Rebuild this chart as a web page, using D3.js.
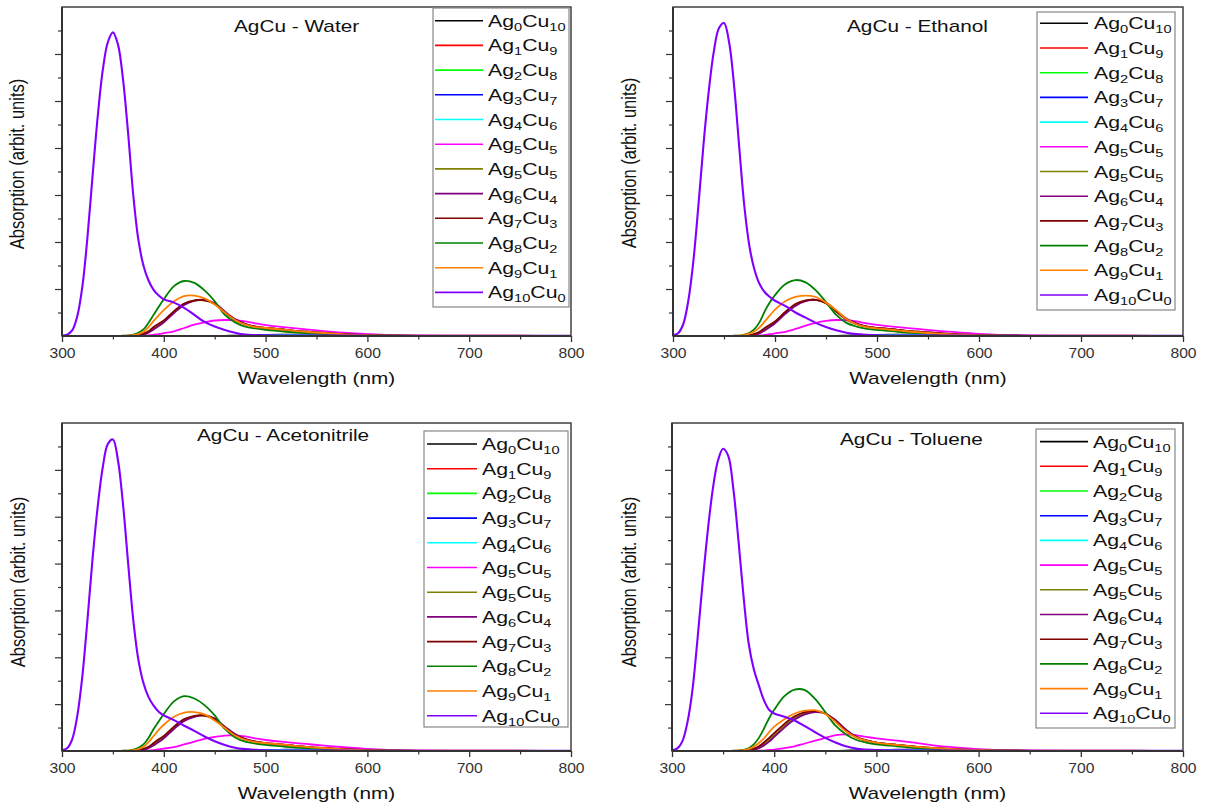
<!DOCTYPE html>
<html>
<head>
<meta charset="utf-8">
<script src="https://d3js.org/d3.v7.min.js"></script>
<style>
  body { margin: 0; background: #fff; }
  text { font-family: "Liberation Sans", Arial, sans-serif; }
</style>
</head>
<body>
<svg id="chart" width="1206" height="808"></svg>
<script>
// wavelength grid (nm) shared by every series
const wl = [300, 305, 310, 315, 320, 325, 330, 335, 340, 345, 350, 355,
            360, 365, 370, 375, 380, 385, 390, 395, 400,
            410, 420, 430, 440, 450, 460, 470, 480, 490, 500,
            520, 540, 560, 580, 600, 620, 650, 700, 750, 800];

// legend entries: [Ag, Cu] subscripts
const compositions = [[0,10],[1,9],[2,8],[3,7],[4,6],[5,5],[5,5],[6,4],[7,3],[8,2],[9,1],[10,0]];
const colors = ["#000000","#ff0000","#00ff00","#0000ff","#00ffff","#ff00ff",
                "#808000","#800080","#800000","#008000","#ff8000","#8000ff"];
const titles = ["AgCu - Water", "AgCu - Ethanol", "AgCu - Acetonitrile", "AgCu - Toluene"];
const xMajor = [300, 400, 500, 600, 700, 800];
const xMinor = [350, 450, 550, 650, 750];

// Cu-rich clusters: practically flat in every solvent
const ag0cu10 = [0,0,0,0,0,0,0,0,0,0,0,0, 0,0,0,0,0,0,0,0,0,
  0,0,0,0,0,0.003,0.008,0.013,0.018,0.022, 0.028,0.032,0.03,0.022,0.012,0.006,0.002,0,0,0];
const ag1cu9 = [0.003,0.003,0.003,0.003,0.003,0.003,0.003,0.003,0.003,0.003,0.003,0.003,
  0.003,0.003,0.003,0.003,0.003,0.003,0.003,0.003,0.003,
  0.004,0.004,0.004,0.004,0.004,0.004,0.004,0.004,0.004,0.004,
  0.005,0.006,0.006,0.006,0.006,0.006,0.006,0.006,0.005,0.004];
const ag2cu8 = [0.002,0.002,0.002,0.002,0.002,0.002,0.002,0.002,0.002,0.002,0.002,0.002,
  0.002,0.002,0.002,0.002,0.002,0.002,0.002,0.002,0.002,
  0.003,0.003,0.003,0.003,0.003,0.003,0.003,0.003,0.003,0.003,
  0.004,0.004,0.004,0.004,0.004,0.004,0.004,0.004,0.004,0.004];
const ag3cu7 = [0,0,0,0,0,0,0,0,0,0,0,0, 0,0,0,0,0,0,0,0,0,
  0,0,0,0,0,0,0,0.002,0.005,0.01, 0.018,0.025,0.024,0.015,0.008,0.004,0.002,0.001,0,0];
const ag4cu6 = [0,0,0,0,0,0,0,0,0,0,0,0, 0,0,0,0,0,0,0,0,0,
  0,0,0,0,0,0,0.003,0.008,0.012,0.015, 0.017,0.018,0.016,0.01,0.005,0.002,0.001,0,0,0];

// Ag-rich clusters, per solvent, order: Ag5Cu5, Ag5Cu5, Ag6Cu4, Ag7Cu3, Ag8Cu2, Ag9Cu1, Ag10Cu0
const water = [
  [0,0,0,0,0,0,0,0,0,0,0,0, 0,0,0,0.003,0.006,0.012,0.025,0.04,0.06,
   0.1,0.17,0.24,0.29,0.33,0.34,0.335,0.31,0.27,0.23, 0.185,0.14,0.1,0.065,0.04,0.02,0.008,0.002,0,0],
  [0,0,0,0,0,0,0,0,0,0,0,0, 0,0,0.005,0.015,0.04,0.08,0.16,0.23,0.31,
   0.51,0.67,0.75,0.76,0.69,0.51,0.35,0.25,0.2,0.17, 0.13,0.09,0.06,0.035,0.02,0.01,0.003,0,0,0],
  [0,0,0,0,0,0,0,0,0,0,0,0, 0,0,0.003,0.01,0.03,0.07,0.14,0.21,0.29,
   0.49,0.66,0.75,0.77,0.7,0.52,0.36,0.26,0.2,0.17, 0.13,0.09,0.06,0.035,0.02,0.01,0.003,0,0,0],
  [0,0,0,0,0,0,0,0,0,0,0,0, 0,0.005,0.01,0.02,0.05,0.1,0.19,0.26,0.33,
   0.53,0.69,0.76,0.76,0.68,0.5,0.34,0.25,0.2,0.17, 0.13,0.09,0.06,0.035,0.02,0.01,0.003,0,0,0],
  [0,0,0,0,0,0,0,0,0,0,0,0, 0.005,0.01,0.03,0.07,0.14,0.28,0.45,0.62,0.78,
   1.06,1.17,1.13,0.97,0.74,0.45,0.29,0.2,0.16,0.13, 0.09,0.06,0.04,0.02,0.01,0.005,0.001,0,0,0],
  [0,0,0,0,0,0,0,0,0,0,0,0, 0.005,0.01,0.02,0.04,0.09,0.19,0.32,0.44,0.55,
   0.74,0.85,0.86,0.8,0.67,0.5,0.34,0.24,0.19,0.17, 0.13,0.09,0.06,0.03,0.015,0.007,0.002,0,0,0],
  [0.01,0.03,0.12,0.42,1.05,2.1,3.4,4.65,5.65,6.25,6.46,6.2, 5.45,4.3,3.0,2.05,1.5,1.18,0.98,0.86,0.78,
   0.71,0.6,0.45,0.3,0.2,0.13,0.07,0.03,0.02,0.015, 0.01,0.01,0.01,0.008,0.006,0.005,0.004,0.003,0.002,0.002]
];
const ethanol = [
  [0,0,0,0,0,0,0,0,0,0,0,0, 0,0,0,0.003,0.006,0.012,0.022,0.037,0.055,
   0.09,0.15,0.22,0.28,0.32,0.34,0.335,0.31,0.27,0.235, 0.19,0.15,0.11,0.075,0.045,0.025,0.01,0.002,0,0],
  [0,0,0,0,0,0,0,0,0,0,0,0, 0,0,0.005,0.012,0.035,0.07,0.14,0.21,0.29,
   0.49,0.66,0.75,0.77,0.7,0.53,0.36,0.26,0.2,0.17, 0.13,0.09,0.06,0.035,0.02,0.01,0.003,0,0,0],
  [0,0,0,0,0,0,0,0,0,0,0,0, 0,0,0.003,0.008,0.025,0.06,0.12,0.19,0.27,
   0.47,0.64,0.74,0.77,0.71,0.54,0.37,0.27,0.2,0.17, 0.13,0.09,0.06,0.035,0.02,0.01,0.003,0,0,0],
  [0,0,0,0,0,0,0,0,0,0,0,0, 0,0.004,0.01,0.02,0.045,0.09,0.17,0.24,0.31,
   0.51,0.68,0.76,0.77,0.7,0.52,0.35,0.25,0.2,0.17, 0.13,0.09,0.06,0.035,0.02,0.01,0.003,0,0,0],
  [0,0,0,0,0,0,0,0,0,0,0,0, 0.005,0.01,0.03,0.07,0.15,0.3,0.53,0.72,0.87,
   1.1,1.19,1.14,0.97,0.72,0.45,0.28,0.2,0.15,0.13, 0.09,0.06,0.04,0.02,0.01,0.005,0.001,0,0,0],
  [0,0,0,0,0,0,0,0,0,0,0,0, 0.005,0.01,0.025,0.05,0.1,0.19,0.31,0.44,0.56,
   0.74,0.83,0.86,0.83,0.71,0.55,0.36,0.25,0.19,0.16, 0.12,0.08,0.05,0.03,0.015,0.007,0.002,0,0,0],
  [0.02,0.06,0.25,0.75,1.6,2.8,4.1,5.2,6.05,6.55,6.66,6.25, 5.3,4.0,2.75,1.9,1.4,1.1,0.93,0.83,0.75,
   0.64,0.5,0.39,0.28,0.19,0.12,0.07,0.04,0.025,0.015, 0.01,0.01,0.01,0.008,0.006,0.005,0.004,0.003,0.002,0.002]
];
const acetonitrile = [
  [0,0,0,0,0,0,0,0,0,0,0,0, 0,0,0,0.002,0.005,0.01,0.02,0.033,0.05,
   0.085,0.14,0.2,0.26,0.3,0.33,0.33,0.31,0.27,0.235, 0.19,0.15,0.11,0.075,0.045,0.025,0.01,0.002,0,0],
  [0,0,0,0,0,0,0,0,0,0,0,0, 0,0,0.005,0.015,0.035,0.08,0.15,0.22,0.3,
   0.5,0.65,0.74,0.75,0.68,0.51,0.35,0.25,0.2,0.17, 0.13,0.09,0.06,0.035,0.02,0.01,0.003,0,0,0],
  [0,0,0,0,0,0,0,0,0,0,0,0, 0,0,0.003,0.01,0.025,0.06,0.12,0.19,0.27,
   0.47,0.64,0.73,0.76,0.69,0.52,0.36,0.26,0.2,0.17, 0.13,0.09,0.06,0.035,0.02,0.01,0.003,0,0,0],
  [0,0,0,0,0,0,0,0,0,0,0,0, 0,0.004,0.01,0.02,0.045,0.09,0.17,0.25,0.32,
   0.52,0.68,0.75,0.76,0.68,0.5,0.34,0.25,0.2,0.17, 0.13,0.09,0.06,0.035,0.02,0.01,0.003,0,0,0],
  [0,0,0,0,0,0,0,0,0,0,0,0, 0.005,0.01,0.03,0.07,0.14,0.28,0.47,0.63,0.79,
   1.06,1.17,1.12,0.98,0.76,0.47,0.29,0.2,0.16,0.13, 0.09,0.06,0.04,0.02,0.01,0.005,0.001,0,0,0],
  [0,0,0,0,0,0,0,0,0,0,0,0, 0.005,0.01,0.02,0.04,0.09,0.19,0.32,0.45,0.56,
   0.73,0.82,0.83,0.78,0.65,0.49,0.33,0.24,0.19,0.17, 0.13,0.09,0.06,0.03,0.015,0.007,0.002,0,0,0],
  [0.02,0.06,0.25,0.75,1.6,2.8,4.1,5.2,6.05,6.55,6.65,6.2, 5.25,4.0,2.8,1.95,1.45,1.15,0.97,0.84,0.76,
   0.66,0.54,0.43,0.31,0.21,0.13,0.07,0.04,0.025,0.015, 0.01,0.01,0.01,0.008,0.006,0.005,0.004,0.003,0.002,0.002]
];
const toluene = [
  [0,0,0,0,0,0,0,0,0,0,0,0, 0,0,0,0,0,0.005,0.01,0.02,0.03,
   0.06,0.1,0.16,0.22,0.28,0.34,0.355,0.34,0.3,0.27, 0.22,0.17,0.11,0.07,0.04,0.02,0.008,0.002,0,0],
  [0,0,0,0,0,0,0,0,0,0,0,0, 0,0,0.005,0.015,0.04,0.08,0.15,0.24,0.33,
   0.54,0.71,0.81,0.84,0.8,0.65,0.45,0.3,0.22,0.18, 0.13,0.09,0.06,0.035,0.02,0.01,0.003,0,0,0],
  [0,0,0,0,0,0,0,0,0,0,0,0, 0,0,0.003,0.01,0.03,0.06,0.12,0.2,0.3,
   0.5,0.67,0.78,0.83,0.8,0.66,0.46,0.31,0.23,0.18, 0.13,0.09,0.06,0.035,0.02,0.01,0.003,0,0,0],
  [0,0,0,0,0,0,0,0,0,0,0,0, 0,0.005,0.01,0.02,0.05,0.1,0.18,0.28,0.38,
   0.58,0.74,0.83,0.85,0.8,0.64,0.44,0.3,0.22,0.18, 0.13,0.09,0.06,0.035,0.02,0.01,0.003,0,0,0],
  [0,0,0,0,0,0,0,0,0,0,0,0, 0.005,0.01,0.025,0.06,0.14,0.28,0.48,0.7,0.88,
   1.17,1.31,1.3,1.11,0.83,0.54,0.36,0.24,0.18,0.14, 0.1,0.06,0.04,0.02,0.01,0.005,0.001,0,0,0],
  [0,0,0,0,0,0,0,0,0,0,0,0, 0.005,0.01,0.02,0.04,0.09,0.17,0.27,0.4,0.52,
   0.68,0.8,0.86,0.87,0.79,0.62,0.42,0.29,0.22,0.18, 0.13,0.09,0.06,0.035,0.02,0.01,0.003,0,0,0],
  [0.02,0.05,0.2,0.6,1.3,2.4,3.6,4.7,5.6,6.2,6.45,6.3, 5.6,4.5,3.3,2.3,1.75,1.4,1.08,0.88,0.8,
   0.73,0.65,0.53,0.4,0.28,0.18,0.1,0.05,0.03,0.02, 0.015,0.01,0.01,0.008,0.006,0.005,0.004,0.003,0.002,0.002]
];

const solvents = [water, ethanol, acetonitrile, toluene];

// panel layout (pixels)
const layouts = [
  {x0: 62,  x1: 571,  y0: 7,   y1: 336, tx: 234, ty: 31.5, yx: 24,  yy: 164,
   lg: {l: 433, t: 8,   r: 569,  b: 307, row0: 20.7, step: 24.7, lx0: 435,  lx1: 483,  tx: 488}},
  {x0: 673, x1: 1183, y0: 7,   y1: 336, tx: 847, ty: 32,   yx: 636, yy: 163,
   lg: {l: 1037, t: 12, r: 1175, b: 310, row0: 23.3, step: 24.7, lx0: 1040, lx1: 1088, tx: 1094}},
  {x0: 62,  x1: 571,  y0: 423, y1: 751, tx: 197, ty: 440.7, yx: 25, yy: 582,
   lg: {l: 424, t: 431, r: 568,  b: 727, row0: 444, step: 24.7, lx0: 427,  lx1: 477,  tx: 482}},
  {x0: 672, x1: 1183, y0: 423, y1: 751, tx: 840, ty: 444.5, yx: 636, yy: 582,
   lg: {l: 1036, t: 429, r: 1175, b: 728, row0: 441.6, step: 24.7, lx0: 1040, lx1: 1088, tx: 1093}}
];

const svg = d3.select("#chart");

function drawPanel(k) {
  const L = layouts[k];
  const series = [ag0cu10, ag1cu9, ag2cu8, ag3cu7, ag4cu6].concat(solvents[k]);
  const x = d3.scaleLinear().domain([300, 800]).range([L.x0, L.x1]);
  const y = d3.scaleLinear().domain([0, 7]).range([L.y1, L.y0]);
  const g = svg.append("g");

  // keep curves inside the frame
  svg.append("clipPath").attr("id", "clip" + k)
    .append("rect")
    .attr("x", L.x0).attr("y", L.y0)
    .attr("width", L.x1 - L.x0).attr("height", L.y1 - L.y0);

  // curves
  const line = d3.line()
    .x((d, i) => x(wl[i]))
    .y(d => y(d))
    .curve(d3.curveCatmullRom.alpha(0.5));

  g.append("g").attr("clip-path", `url(#clip${k})`)
    .selectAll(".curve").data(series).join("path")
    .attr("class", "curve")
    .attr("d", line)
    .attr("fill", "none")
    .attr("stroke", (d, i) => colors[i])
    .attr("stroke-width", (d, i) => i == 11 ? 2.1 : 1.8);

  // x axis, major + minor ticks
  const xa = g.append("g")
    .attr("transform", `translate(0,${L.y1})`)
    .call(d3.axisBottom(x).tickValues(xMajor).tickSize(6).tickSizeOuter(0).tickFormat(d3.format("d")));
  xa.select(".domain").remove();
  xa.selectAll("line").attr("stroke", "#333").attr("stroke-width", 1.3);
  xa.selectAll("text")
    .attr("y", 22).attr("dy", null)
    .attr("font-size", 14).attr("fill", "#333")
    .attr("transform", "scale(1.12,1)");

  const xm = g.append("g")
    .attr("transform", `translate(0,${L.y1})`)
    .call(d3.axisBottom(x).tickValues(xMinor).tickSize(3.5).tickSizeOuter(0).tickFormat(""));
  xm.select(".domain").remove();
  xm.selectAll("line").attr("stroke", "#333").attr("stroke-width", 1.2);

  // y axis, unlabeled ticks
  const ya = g.append("g")
    .attr("transform", `translate(${L.x0},0)`)
    .call(d3.axisLeft(y).tickValues([1, 2, 3, 4, 5, 6]).tickSize(7).tickSizeOuter(0).tickFormat(""));
  ya.select(".domain").remove();
  ya.selectAll("line").attr("stroke", "#333").attr("stroke-width", 1.2);

  const ym = g.append("g")
    .attr("transform", `translate(${L.x0},0)`)
    .call(d3.axisLeft(y).tickValues([0.5, 1.5, 2.5, 3.5, 4.5, 5.5, 6.5]).tickSize(4).tickSizeOuter(0).tickFormat(""));
  ym.select(".domain").remove();
  ym.selectAll("line").attr("stroke", "#333").attr("stroke-width", 1.2);

  // frame
  g.append("rect")
    .attr("x", L.x0).attr("y", L.y0)
    .attr("width", L.x1 - L.x0).attr("height", L.y1 - L.y0)
    .attr("fill", "none").attr("stroke", "#333").attr("stroke-width", 1.4);
  g.append("line").attr("x1", L.x0).attr("x2", L.x0).attr("y1", L.y0).attr("y2", L.y1)
    .attr("stroke", "#333").attr("stroke-width", 2);
  g.append("line").attr("x1", L.x0).attr("x2", L.x1).attr("y1", L.y1).attr("y2", L.y1)
    .attr("stroke", "#333").attr("stroke-width", 2);

  // axis titles
  g.append("text")
    .attr("transform", `translate(${(L.x0 + L.x1) / 2},${L.y1 + 47.5}) scale(1.3,1)`)
    .attr("text-anchor", "middle")
    .attr("font-size", 16).attr("fill", "#111")
    .text("Wavelength (nm)");

  g.append("text")
    .attr("transform", `translate(${L.yx},${L.yy}) rotate(-90) scale(1,1.2)`)
    .attr("text-anchor", "middle")
    .attr("font-size", 16.5).attr("fill", "#111")
    .text("Absorption (arbit. units)");

  // panel title
  g.append("text")
    .attr("transform", `translate(${L.tx},${L.ty}) scale(1.3,1)`)
    .attr("font-size", 16).attr("fill", "#111")
    .text(titles[k]);

  // legend
  const lg = L.lg;
  g.append("rect")
    .attr("x", lg.l).attr("y", lg.t)
    .attr("width", lg.r - lg.l).attr("height", lg.b - lg.t)
    .attr("fill", "#fff").attr("stroke", "#888").attr("stroke-width", 1.2);

  const rows = g.selectAll(".lrow").data(compositions).join("g")
    .attr("class", "lrow")
    .attr("transform", (d, i) => `translate(0,${lg.row0 + i * lg.step})`);
  rows.append("line")
    .attr("x1", lg.lx0).attr("x2", lg.lx1)
    .attr("stroke", (d, i) => colors[i]).attr("stroke-width", 1.6);
  const t = rows.append("text")
    .attr("transform", `translate(${lg.tx},6) scale(1.33,1)`)
    .attr("font-size", 16).attr("fill", "#111");
  t.append("tspan").text("Ag");
  t.append("tspan").attr("font-size", 11).attr("dy", 4).text(d => d[0]);
  t.append("tspan").attr("font-size", 16).attr("dy", -4).text("Cu");
  t.append("tspan").attr("font-size", 11).attr("dy", 4).text(d => d[1]);
}

for (let k = 0; k < 4; k++) drawPanel(k);
</script>
</body>
</html>
